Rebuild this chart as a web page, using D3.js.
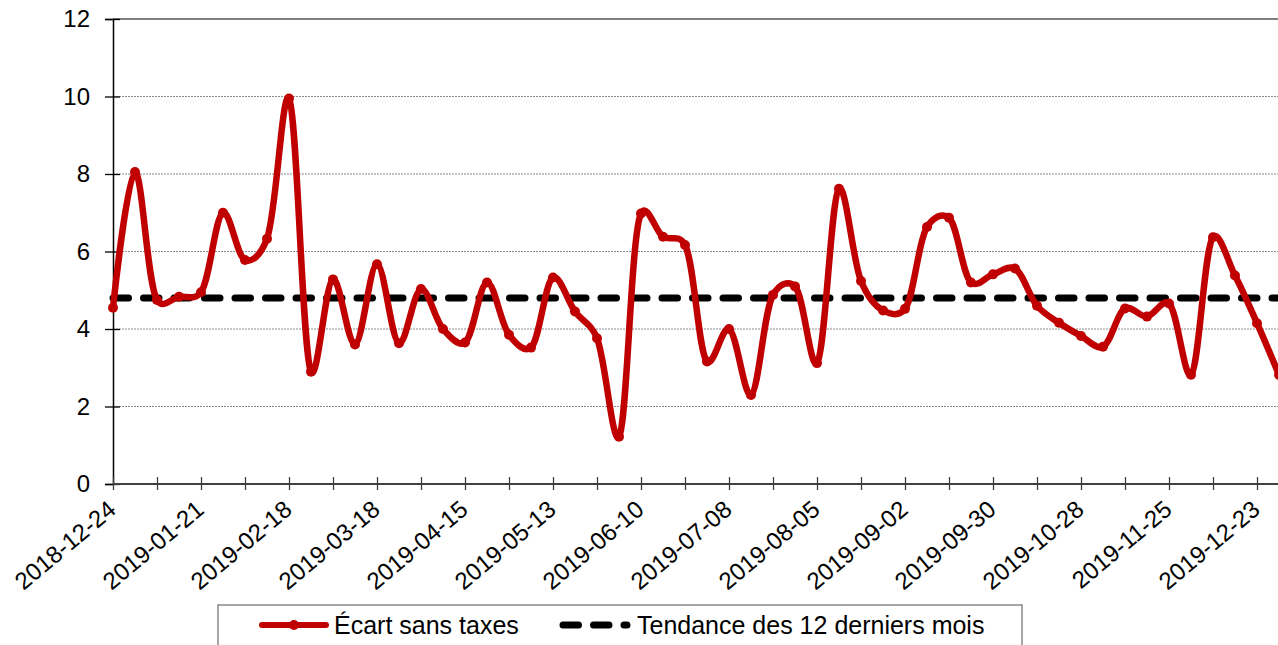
<!DOCTYPE html>
<html>
<head>
<meta charset="utf-8">
<script src="https://cdn.jsdelivr.net/npm/d3@7"></script>
<style>
  html, body { margin: 0; padding: 0; background: #fff; }
  svg { display: block; font-family: "Liberation Sans", Arial, sans-serif; }
</style>
</head>
<body>
<svg id="chart" width="1278" height="645"></svg>
<script>
const dates = [
  "2018-12-24","2018-12-31","2019-01-07","2019-01-14","2019-01-21","2019-01-28",
  "2019-02-04","2019-02-11","2019-02-18","2019-02-25","2019-03-04","2019-03-11",
  "2019-03-18","2019-03-25","2019-04-01","2019-04-08","2019-04-15","2019-04-22",
  "2019-04-29","2019-05-06","2019-05-13","2019-05-20","2019-05-27","2019-06-03",
  "2019-06-10","2019-06-17","2019-06-24","2019-07-01","2019-07-08","2019-07-15",
  "2019-07-22","2019-07-29","2019-08-05","2019-08-12","2019-08-19","2019-08-26",
  "2019-09-02","2019-09-09","2019-09-16","2019-09-23","2019-09-30","2019-10-07",
  "2019-10-14","2019-10-21","2019-10-28","2019-11-04","2019-11-11","2019-11-18",
  "2019-11-25","2019-12-02","2019-12-09","2019-12-16","2019-12-23","2019-12-30"
];
const ecart = [
  4.55, 8.05, 4.75, 4.83, 4.95, 7.00, 5.78, 6.33, 9.95, 2.90,
  5.28, 3.60, 5.67, 3.63, 5.03, 4.00, 3.65, 5.20, 3.85, 3.52,
  5.33, 4.45, 3.76, 1.22, 6.98, 6.38, 6.17, 3.16, 4.00, 2.30,
  4.88, 5.10, 3.12, 7.62, 5.24, 4.48, 4.52, 6.63, 6.87, 5.20,
  5.41, 5.56, 4.60, 4.16, 3.82, 3.54, 4.53, 4.32, 4.66, 2.82,
  6.37, 5.38, 4.15, 2.82
];
const tendance = 4.8;
const tickLabels = [
  "2018-12-24","2019-01-21","2019-02-18","2019-03-18","2019-04-15","2019-05-13",
  "2019-06-10","2019-07-08","2019-08-05","2019-09-02","2019-09-30","2019-10-28",
  "2019-11-25","2019-12-23"
];
const yTicks = [0, 2, 4, 6, 8, 10, 12];
const seriesNames = ["Écart sans taxes", "Tendance des 12 derniers mois"];

const svg = d3.select("#chart");
const x = d3.scalePoint().domain(dates).range([113, 1279]);
const y = d3.scaleLinear().domain([0, 12]).range([484, 19]);

// gridlines
svg.append("g").selectAll("line")
  .data(yTicks.filter(t => t > 0))
  .join("line")
  .attr("x1", 113).attr("x2", 1278)
  .attr("y1", d => y(d)).attr("y2", d => y(d))
  .attr("stroke", d => d === 12 ? "#555" : "#8a8a8a")
  .attr("stroke-width", d => d === 12 ? 1.6 : 1)
  .attr("stroke-dasharray", d => d === 12 ? null : "2,1");

// y axis
const yAxis = svg.append("g").attr("transform", "translate(113,0)")
  .call(d3.axisLeft(y).tickValues(yTicks).tickSize(8).tickPadding(15).tickFormat(d3.format("d")));
yAxis.select(".domain").attr("stroke", "#000").attr("stroke-width", 1.5);
yAxis.selectAll(".tick line").attr("x1", 7).attr("x2", -8).attr("stroke", "#000").attr("stroke-width", 1.3);
yAxis.selectAll("text").attr("font-size", 24).attr("fill", "#000")
  .attr("font-family", "'Liberation Sans', Arial, sans-serif");

// x axis
const xAxis = svg.append("g").attr("transform", "translate(0,484)")
  .call(d3.axisBottom(x).tickValues(dates.filter((d, i) => i % 2 === 0))
    .tickSize(6).tickFormat(d => tickLabels.includes(d) ? d : ""));
xAxis.select(".domain").attr("stroke", "#404040").attr("stroke-width", 2)
  .attr("d", "M113,0H1278");
xAxis.selectAll(".tick line").attr("y1", -7).attr("y2", 6).attr("stroke", "#404040").attr("stroke-width", 1.3);
xAxis.selectAll(".tick text")
  .attr("font-size", 24).attr("fill", "#000")
  .attr("font-family", "'Liberation Sans', Arial, sans-serif")
  .attr("text-anchor", "end")
  .attr("dy", null).attr("y", null)
  .attr("transform", "translate(4,28) rotate(-40)");

// trend line
svg.append("line")
  .attr("x1", x(dates[0])).attr("x2", 1278)
  .attr("y1", y(tendance)).attr("y2", y(tendance))
  .attr("stroke", "#000").attr("stroke-width", 7)
  .attr("stroke-linecap", "round").attr("stroke-dasharray", "15.5,15");

// series line
const pts = dates.map((d, i) => [x(d), y(ecart[i])]);
svg.append("path")
  .attr("d", d3.line().curve(d3.curveCatmullRom.alpha(0.25))(pts))
  .attr("fill", "none").attr("stroke", "#C00000").attr("stroke-width", 6.5)
  .attr("stroke-linejoin", "round");
svg.append("g").selectAll("circle").data(pts).join("circle")
  .attr("cx", d => d[0]).attr("cy", d => d[1]).attr("r", 5)
  .attr("fill", "#C00000");

// legend
const lg = svg.append("g");
lg.append("rect").attr("x", 218).attr("y", 605).attr("width", 804).attr("height", 60)
  .attr("fill", "#fff").attr("stroke", "#888").attr("stroke-width", 1.5);
lg.append("line").attr("x1", 262).attr("x2", 326).attr("y1", 625).attr("y2", 625)
  .attr("stroke", "#C00000").attr("stroke-width", 6).attr("stroke-linecap", "round");
lg.append("circle").attr("cx", 294).attr("cy", 625).attr("r", 5).attr("fill", "#C00000");
lg.append("text").attr("x", 334).attr("y", 634).attr("font-size", 25).attr("fill", "#000")
  .text(seriesNames[0]);
lg.append("line").attr("x1", 563).attr("x2", 627).attr("y1", 625).attr("y2", 625)
  .attr("stroke", "#000").attr("stroke-width", 7)
  .attr("stroke-linecap", "round").attr("stroke-dasharray", "15.5,15");
lg.append("text").attr("x", 637).attr("y", 634).attr("font-size", 25).attr("fill", "#000")
  .text(seriesNames[1]);
</script>
</body>
</html>
